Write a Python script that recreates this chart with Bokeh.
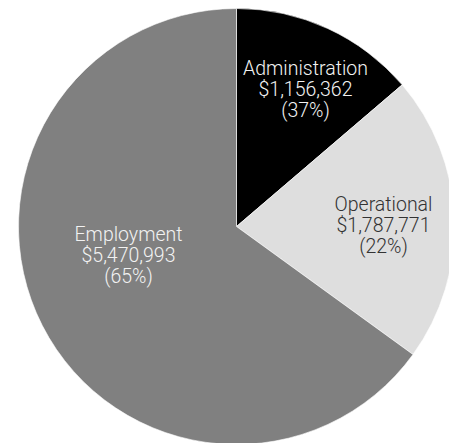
import math
from bokeh.plotting import figure
from bokeh.models import Range1d, ColumnDataSource
from bokeh.core.properties import value
from bokeh.embed import file_html
from bokeh.resources import INLINE

# Data
categories = ["Administration", "Operational", "Employment"]
amounts = [1156362, 1787771, 5470993]
amount_labels = ["$1,156,362", "$1,787,771", "$5,470,993"]
pct_labels = ["(37%)", "(22%)", "(65%)"]

# Styles / layout
colors = ["#000000", "#dedede", "#808080"]
text_colors = ["#f2f2f2", "#333333", "#f2f2f2"]
W, H = 449, 443
cx, cy, r = 236, H - 226, 218
# label anchor offsets (pixels from centre), layout only
label_pos = [(69, 137), (147, 1), (-108, -29)]
line_gap = 21
font_size = "19.5px"

total = float(sum(amounts))
starts, ends = [], []
cum = 0.0
for a in amounts:
    s = cum / total
    cum += a
    e = cum / total
    # clockwise from 12 o'clock
    starts.append(math.pi / 2 - 2 * math.pi * e)
    ends.append(math.pi / 2 - 2 * math.pi * s)

src = ColumnDataSource(dict(x=[cx] * 3, y=[cy] * 3, start=starts, end=ends, color=colors))

p = figure(width=W, height=H, output_backend="svg", toolbar_location=None,
           x_range=Range1d(0, W), y_range=Range1d(0, H), min_border=0)
p.axis.visible = False
p.grid.visible = False
p.outline_line_color = None
p.background_fill_color = "white"

p.wedge(x="x", y="y", radius=r, start_angle="start", end_angle="end",
        fill_color="color", line_color="white", line_width=0.6, source=src)

xs, ys, txt, tc = [], [], [], []
for i in range(3):
    lx = cx + label_pos[i][0]
    ly = cy + label_pos[i][1]
    for j, t in enumerate([categories[i], amount_labels[i], pct_labels[i]]):
        xs.append(lx)
        ys.append(ly + (1 - j) * line_gap)
        txt.append(t)
        tc.append(text_colors[i])

p.text(x=xs, y=ys, text=txt, text_color=tc, text_align="center",
       text_baseline="middle", text_font=value("Roboto Light"),
       text_font_size=font_size)

open("out.html", "w").write(file_html(p, INLINE))
